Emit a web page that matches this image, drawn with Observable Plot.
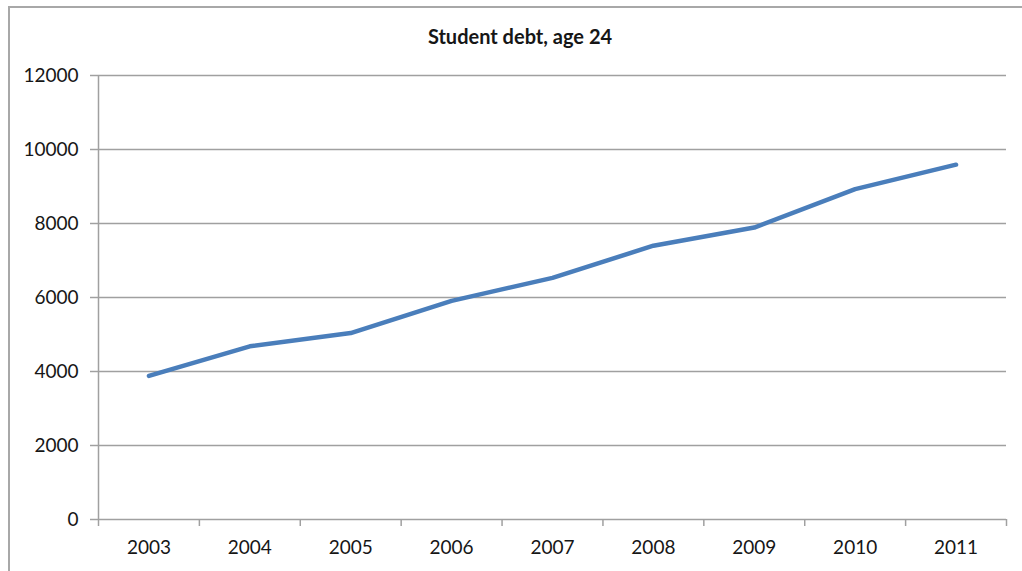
<!DOCTYPE html>
<html>
<head>
<meta charset="utf-8">
<script src="https://cdn.jsdelivr.net/npm/d3@7"></script>
<script src="https://cdn.jsdelivr.net/npm/@observablehq/plot@0.6"></script>
<style>
  html, body { margin: 0; padding: 0; background: #fff; overflow: hidden; width: 1022px; height: 571px; }
  #frame { position: absolute; left: 8px; top: 6px; width: 1100px; height: 700px;
           border-top: 2px solid #a8a8a8; border-left: 2px solid #a8a8a8; box-sizing: border-box; }
  #title { position: absolute; left: 0; width: 1040px; top: 24px; text-align: center;
           font: bold 20px Lato, sans-serif; color: #161616; }
  #chart { position: absolute; left: 0; top: 0; }
  #chart svg text { fill: #161616; }
</style>
</head>
<body>
<div id="frame"></div>
<div id="chart"></div>
<div id="title">Student debt, age 24</div>
<script>
const years = ["2003", "2004", "2005", "2006", "2007", "2008", "2009", "2010", "2011"];
const debt = [3880, 4680, 5040, 5910, 6530, 7400, 7890, 8930, 9590];
const yTicks = [0, 2000, 4000, 6000, 8000, 10000, 12000];

const data = years.map((y, i) => ({year: y, debt: debt[i]}));

const W = 1022, H = 571, ML = 98, MR = 16, MT = 75, MB = 52;
const half = (W - ML - MR) / years.length / 2;
const grid = "#a0a0a0";

const chart = Plot.plot({
  width: W,
  height: H,
  marginLeft: ML,
  marginRight: MR,
  marginTop: MT,
  marginBottom: MB,
  style: {fontFamily: "Lato, sans-serif", fontSize: "19px", color: "#161616", background: "transparent"},
  x: {type: "point", domain: years, padding: 0.5, round: false},
  y: {domain: [0, 12000]},
  marks: [
    Plot.ruleY(yTicks, {stroke: grid, strokeWidth: 1.5}),
    Plot.ruleX([years[0]], {dx: -half, stroke: grid, strokeWidth: 1.5, y1: 0, y2: 12000}),
    Plot.axisY({ticks: yTicks, tickSize: 8, tickPadding: 12, stroke: grid, strokeWidth: 1.5, tickFormat: d => String(d), label: null}),
    Plot.axisX({ticks: years, tickSize: 7, dx: -half, stroke: grid, strokeWidth: 1.5, tickFormat: () => "", label: null}),
    Plot.axisX({ticks: [years[years.length - 1]], tickSize: 7, dx: half, stroke: grid, strokeWidth: 1.5, tickFormat: () => "", label: null}),
    Plot.axisX({ticks: years, tickSize: 0, tickPadding: 21, label: null}),
    Plot.line(data, {x: "year", y: "debt", stroke: "#4a7ebb", strokeWidth: 4.5, strokeLinecap: "round", strokeLinejoin: "round"})
  ]
});
document.getElementById("chart").appendChild(chart);
</script>
</body>
</html>
